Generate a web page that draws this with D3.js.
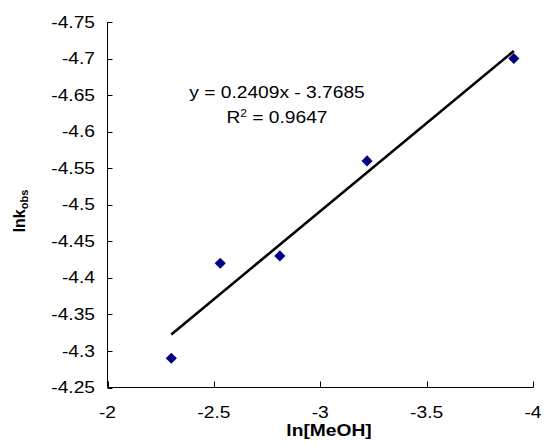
<!DOCTYPE html>
<html>
<head>
<meta charset="utf-8">
<script src="https://cdn.jsdelivr.net/npm/d3@7"></script>
<style>
  html, body { margin: 0; padding: 0; background: #fff; }
  svg { display: block; font-family: "Liberation Sans", Arial, sans-serif; }
</style>
</head>
<body>
<svg id="chart" width="546" height="447"></svg>
<script>
// ---- data ----
const lnMeOH = [-2.30, -2.53, -2.81, -3.22, -3.91];
const lnKobs = [-4.29, -4.42, -4.43, -4.56, -4.70];
const xTicks = [-2, -2.5, -3, -3.5, -4];
const yTicks = [-4.25, -4.3, -4.35, -4.4, -4.45, -4.5, -4.55, -4.6, -4.65, -4.7, -4.75];
const trendSlope = 0.2409;
const trendIntercept = -3.7685;
const equationLines = ["y = 0.2409x - 3.7685", "R2 = 0.9647"];
const xTitle = "ln[MeOH]";

// ---- layout ----
const svg = d3.select("#chart");
const pLeft = 107.5, pRight = 533, pTop = 22, pBottom = 387.5;
const sx = 1.2; // horizontal glyph stretch seen in reference

const x = d3.scaleLinear().domain([-2, -4]).range([pLeft, pRight]);
const y = d3.scaleLinear().domain([-4.25, -4.75]).range([pBottom, pTop]);

// axes lines
svg.append("line").attr("x1", pLeft).attr("x2", pLeft).attr("y1", pTop).attr("y2", pBottom)
  .attr("stroke", "#000").attr("stroke-width", 1);
svg.append("line").attr("x1", pLeft).attr("x2", pRight + 0.5).attr("y1", pBottom).attr("y2", pBottom)
  .attr("stroke", "#000").attr("stroke-width", 1);

// y ticks (inside)
yTicks.forEach(t => {
  const py = Math.round(y(t)) + 0.5;
  svg.append("line").attr("x1", pLeft).attr("x2", pLeft + 5).attr("y1", py).attr("y2", py)
    .attr("stroke", "#000").attr("stroke-width", 1);
  svg.append("text")
    .attr("transform", `translate(95,${y(t)}) scale(${sx},1)`)
    .attr("dy", "0.35em")
    .attr("text-anchor", "end")
    .attr("font-size", 16)
    .attr("fill", "#000")
    .text(String(t));
});

// x ticks (inside)
xTicks.forEach(t => {
  const px = Math.round(x(t)) + 0.5;
  svg.append("line").attr("x1", px).attr("x2", px).attr("y1", pBottom).attr("y2", pBottom - 6)
    .attr("stroke", "#000").attr("stroke-width", 1);
  svg.append("text")
    .attr("transform", `translate(${x(t)},418) scale(${sx},1)`)
    .attr("text-anchor", "middle")
    .attr("font-size", 16)
    .attr("fill", "#000")
    .text(String(t));
});

// trend line
const xr = d3.extent(lnMeOH);
svg.append("line")
  .attr("x1", x(xr[1])).attr("y1", y(trendSlope * xr[1] + trendIntercept))
  .attr("x2", x(xr[0])).attr("y2", y(trendSlope * xr[0] + trendIntercept))
  .attr("stroke", "#000").attr("stroke-width", 2.6);

// data points (diamonds)
const diamond = d3.symbol().type(d3.symbolSquare).size(62);
svg.selectAll("path.pt").data(lnMeOH.map((v, i) => [v, lnKobs[i]])).enter()
  .append("path").attr("class", "pt")
  .attr("d", diamond)
  .attr("transform", d => `translate(${x(d[0])},${y(d[1])}) rotate(45)`)
  .attr("fill", "#000080");

// equation
svg.append("text")
  .attr("transform", `translate(277,98) scale(${sx},1)`)
  .attr("text-anchor", "middle").attr("font-size", 16).attr("fill", "#000")
  .text(equationLines[0]);
const r2 = svg.append("text")
  .attr("transform", `translate(277,123) scale(${sx},1)`)
  .attr("text-anchor", "middle").attr("font-size", 16).attr("fill", "#000");
r2.append("tspan").text("R");
r2.append("tspan").attr("font-size", 10).attr("dy", -6).text("2");
r2.append("tspan").attr("dy", 6).text(" = 0.9647");

// x title
svg.append("text")
  .attr("transform", `translate(329,436) scale(${sx},1)`)
  .attr("text-anchor", "middle").attr("font-size", 16).attr("font-weight", "bold").attr("fill", "#000")
  .text(xTitle);

// y title
const yt = svg.append("text")
  .attr("transform", "translate(25,211) rotate(-90)")
  .attr("text-anchor", "middle").attr("font-size", 16).attr("font-weight", "bold").attr("fill", "#000");
yt.append("tspan").text("ln");
yt.append("tspan").text("k");
yt.append("tspan").attr("font-size", 11).attr("dy", 3).text("obs");
</script>
</body>
</html>
